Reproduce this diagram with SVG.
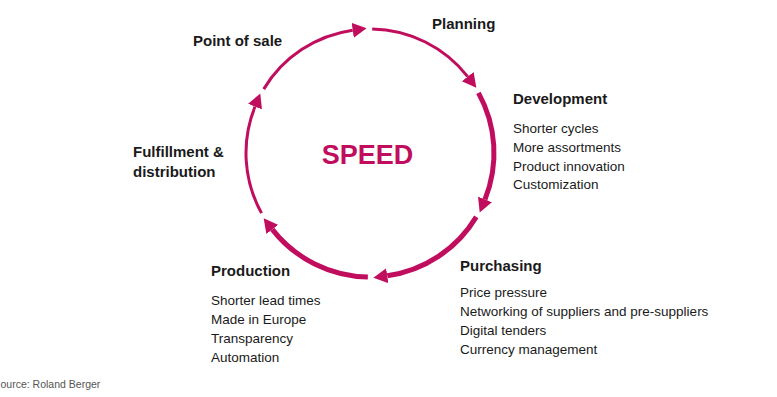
<svg xmlns="http://www.w3.org/2000/svg" width="777" height="397" viewBox="0 0 777 397">
<defs>
<style>
.arc{fill:none;stroke:#C00D5E;stroke-linecap:butt;marker-end:url(#ah)}
.thin{stroke-width:3}
.thick{stroke-width:5}
.t{font-family:"Liberation Sans",Arial,sans-serif;fill:#1a1a1a}
.h{font-size:15px;font-weight:bold}
.i{font-size:13.5px}
</style>
<marker id="ah" markerUnits="userSpaceOnUse" markerWidth="16" markerHeight="16" viewBox="0 -8 16 16" refX="0" refY="0" orient="auto">
<path d="M0,-7.5 L14,0 L0,7.5 Z" fill="#C00D5E"/>
</marker>
</defs>
<rect width="777" height="397" fill="#ffffff"/>
<g id="connectors">
<path class="arc thin" d="M372.16,29.02 A124,124 0 0 1 467.71,76.65"/>
<path class="arc thick" d="M478.45,92.89 A124,124 0 0 1 484.97,199.45"/>
<path class="arc thick" d="M476.29,216.86 A124,124 0 0 1 387.26,275.79"/>
<path class="arc thick" d="M367.84,276.98 A124,124 0 0 1 272.29,229.35"/>
<path class="arc thin" d="M261.55,213.11 A124,124 0 0 1 255.03,106.55"/>
<path class="arc thin" d="M263.71,89.14 A124,124 0 0 1 352.74,30.21"/>
</g>
<g id="speed"><text class="t" x="367.5" y="164" text-anchor="middle" font-size="27" font-weight="bold" style="fill:#C00D5E">SPEED</text></g>
<g id="planning"><text class="t h" x="432" y="29">Planning</text></g>
<g id="development">
<text class="t h" x="513" y="104">Development</text>
<text class="t i" x="513" y="133">Shorter cycles</text>
<text class="t i" x="513" y="152">More assortments</text>
<text class="t i" x="513" y="171">Product innovation</text>
<text class="t i" x="513" y="189">Customization</text>
</g>
<g id="purchasing">
<text class="t h" x="460" y="271">Purchasing</text>
<text class="t i" x="460" y="297">Price pressure</text>
<text class="t i" x="460" y="316">Networking of suppliers and pre-suppliers</text>
<text class="t i" x="460" y="335">Digital tenders</text>
<text class="t i" x="460" y="354">Currency management</text>
</g>
<g id="production">
<text class="t h" x="211" y="276">Production</text>
<text class="t i" x="211" y="305">Shorter lead times</text>
<text class="t i" x="211" y="324">Made in Europe</text>
<text class="t i" x="211" y="343">Transparency</text>
<text class="t i" x="211" y="362">Automation</text>
</g>
<g id="fulfillment">
<text class="t h" x="133" y="157">Fulfillment &amp;</text>
<text class="t h" x="133" y="177">distribution</text>
</g>
<g id="pointofsale"><text class="t h" x="193" y="46">Point of sale</text></g>
<g id="source"><text class="t" x="0.5" y="388" font-size="10.5" style="fill:#555">ource: Roland Berger</text></g>
</svg>
